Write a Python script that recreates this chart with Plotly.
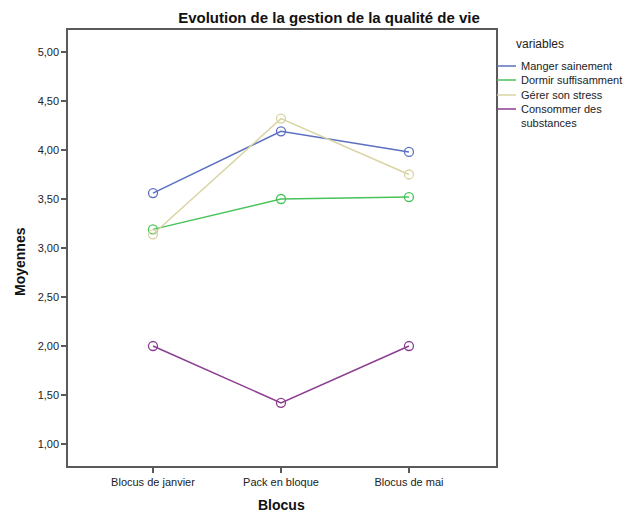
import plotly.graph_objects as go

categories = ["Blocus de janvier", "Pack en bloque", "Blocus de mai"]
series_names = ["Manger sainement", "Dormir suffisamment", "Gérer son stress", "Consommer des<br>substances"]
manger = [3.56, 4.19, 3.98]
dormir = [3.19, 3.50, 3.52]
gerer = [3.14, 4.32, 3.75]
consommer = [2.00, 1.42, 2.00]
y_ticks = [1.0, 1.5, 2.0, 2.5, 3.0, 3.5, 4.0, 4.5, 5.0]

colors = ["#5b70c2", "#47c35a", "#d9d4a3", "#8c3d91"]
all_series = [manger, dormir, gerer, consommer]

W, H = 625, 513
L, R, T, B = 68, 129, 30, 47
PW, PH = W - L - R, H - T - B


def px(x):
    return (x - L) / PW


def py(y):
    return 1 - (y - T) / PH


fig = go.Figure()
for name, vals, col in zip(series_names, all_series, colors):
    fig.add_trace(go.Scatter(
        x=list(range(len(categories))), y=vals, mode="lines+markers", name=name,
        line=dict(color=col, width=1.5),
        marker=dict(symbol="circle-open", size=9, color=col, line=dict(width=1.3)),
        showlegend=False, hoverinfo="skip"))

axis_common = dict(showline=True, linecolor="#5a5a5a", linewidth=1.5, mirror=True,
                   ticks="outside", ticklen=5, tickcolor="#5a5a5a", tickwidth=1.5,
                   showgrid=False, zeroline=False, automargin=False,
                   tickfont=dict(family="Arial, Liberation Sans", size=11, color="#222"))

fig.update_layout(
    width=W, height=H,
    margin=dict(l=L, r=R, t=T, b=B),
    plot_bgcolor="white", paper_bgcolor="white",
    separators=", ",
    title=dict(text="<b>Evolution de la gestion de la qualité de vie</b>",
               x=329 / W, xanchor="center", y=1 - 18 / H, yanchor="middle",
               font=dict(family="Arial, Liberation Sans", size=15, color="#111")),
    xaxis=dict(**axis_common, tickmode="array", tickvals=list(range(len(categories))),
               ticktext=categories, range=[-0.664, 2.68]),
    yaxis=dict(**axis_common, tickmode="array", tickvals=y_ticks, tickformat=".2f",
               range=[0.776, 5.224]),
)

# axis titles
fig.add_annotation(xref="paper", yref="paper", x=px(281), y=py(505),
                   text="<b>Blocus</b>", showarrow=False, xanchor="center", yanchor="middle",
                   font=dict(family="Arial, Liberation Sans", size=14, color="#111"))
fig.add_annotation(xref="paper", yref="paper", x=px(20), y=py(262),
                   text="<b>Moyennes</b>", showarrow=False, xanchor="center", yanchor="middle",
                   textangle=-90,
                   font=dict(family="Arial, Liberation Sans", size=14, color="#111"))

# manual legend
fig.add_annotation(xref="paper", yref="paper", x=px(540), y=py(44),
                   text="variables", showarrow=False, xanchor="center", yanchor="middle",
                   font=dict(family="Arial, Liberation Sans", size=12, color="#222"))
legend_y = [66, 80, 95, 109]
for name, col, ly in zip(series_names, colors, legend_y):
    fy = py(ly)
    fig.add_shape(type="line", xref="paper", yref="paper",
                  x0=px(497), x1=px(516), y0=fy, y1=fy,
                  line=dict(color=col, width=1.5))
    multi = "<br>" in name
    fig.add_annotation(xref="paper", yref="paper", x=px(519),
                       y=fy + (8 / PH if multi else 0),
                       text=name, showarrow=False, xanchor="left",
                       yanchor="top" if multi else "middle", align="left",
                       font=dict(family="Arial, Liberation Sans", size=11, color="#222"))

fig.write_html("out.html", config={"displayModeBar": False},
               post_script="document.body.style.margin='0';")
